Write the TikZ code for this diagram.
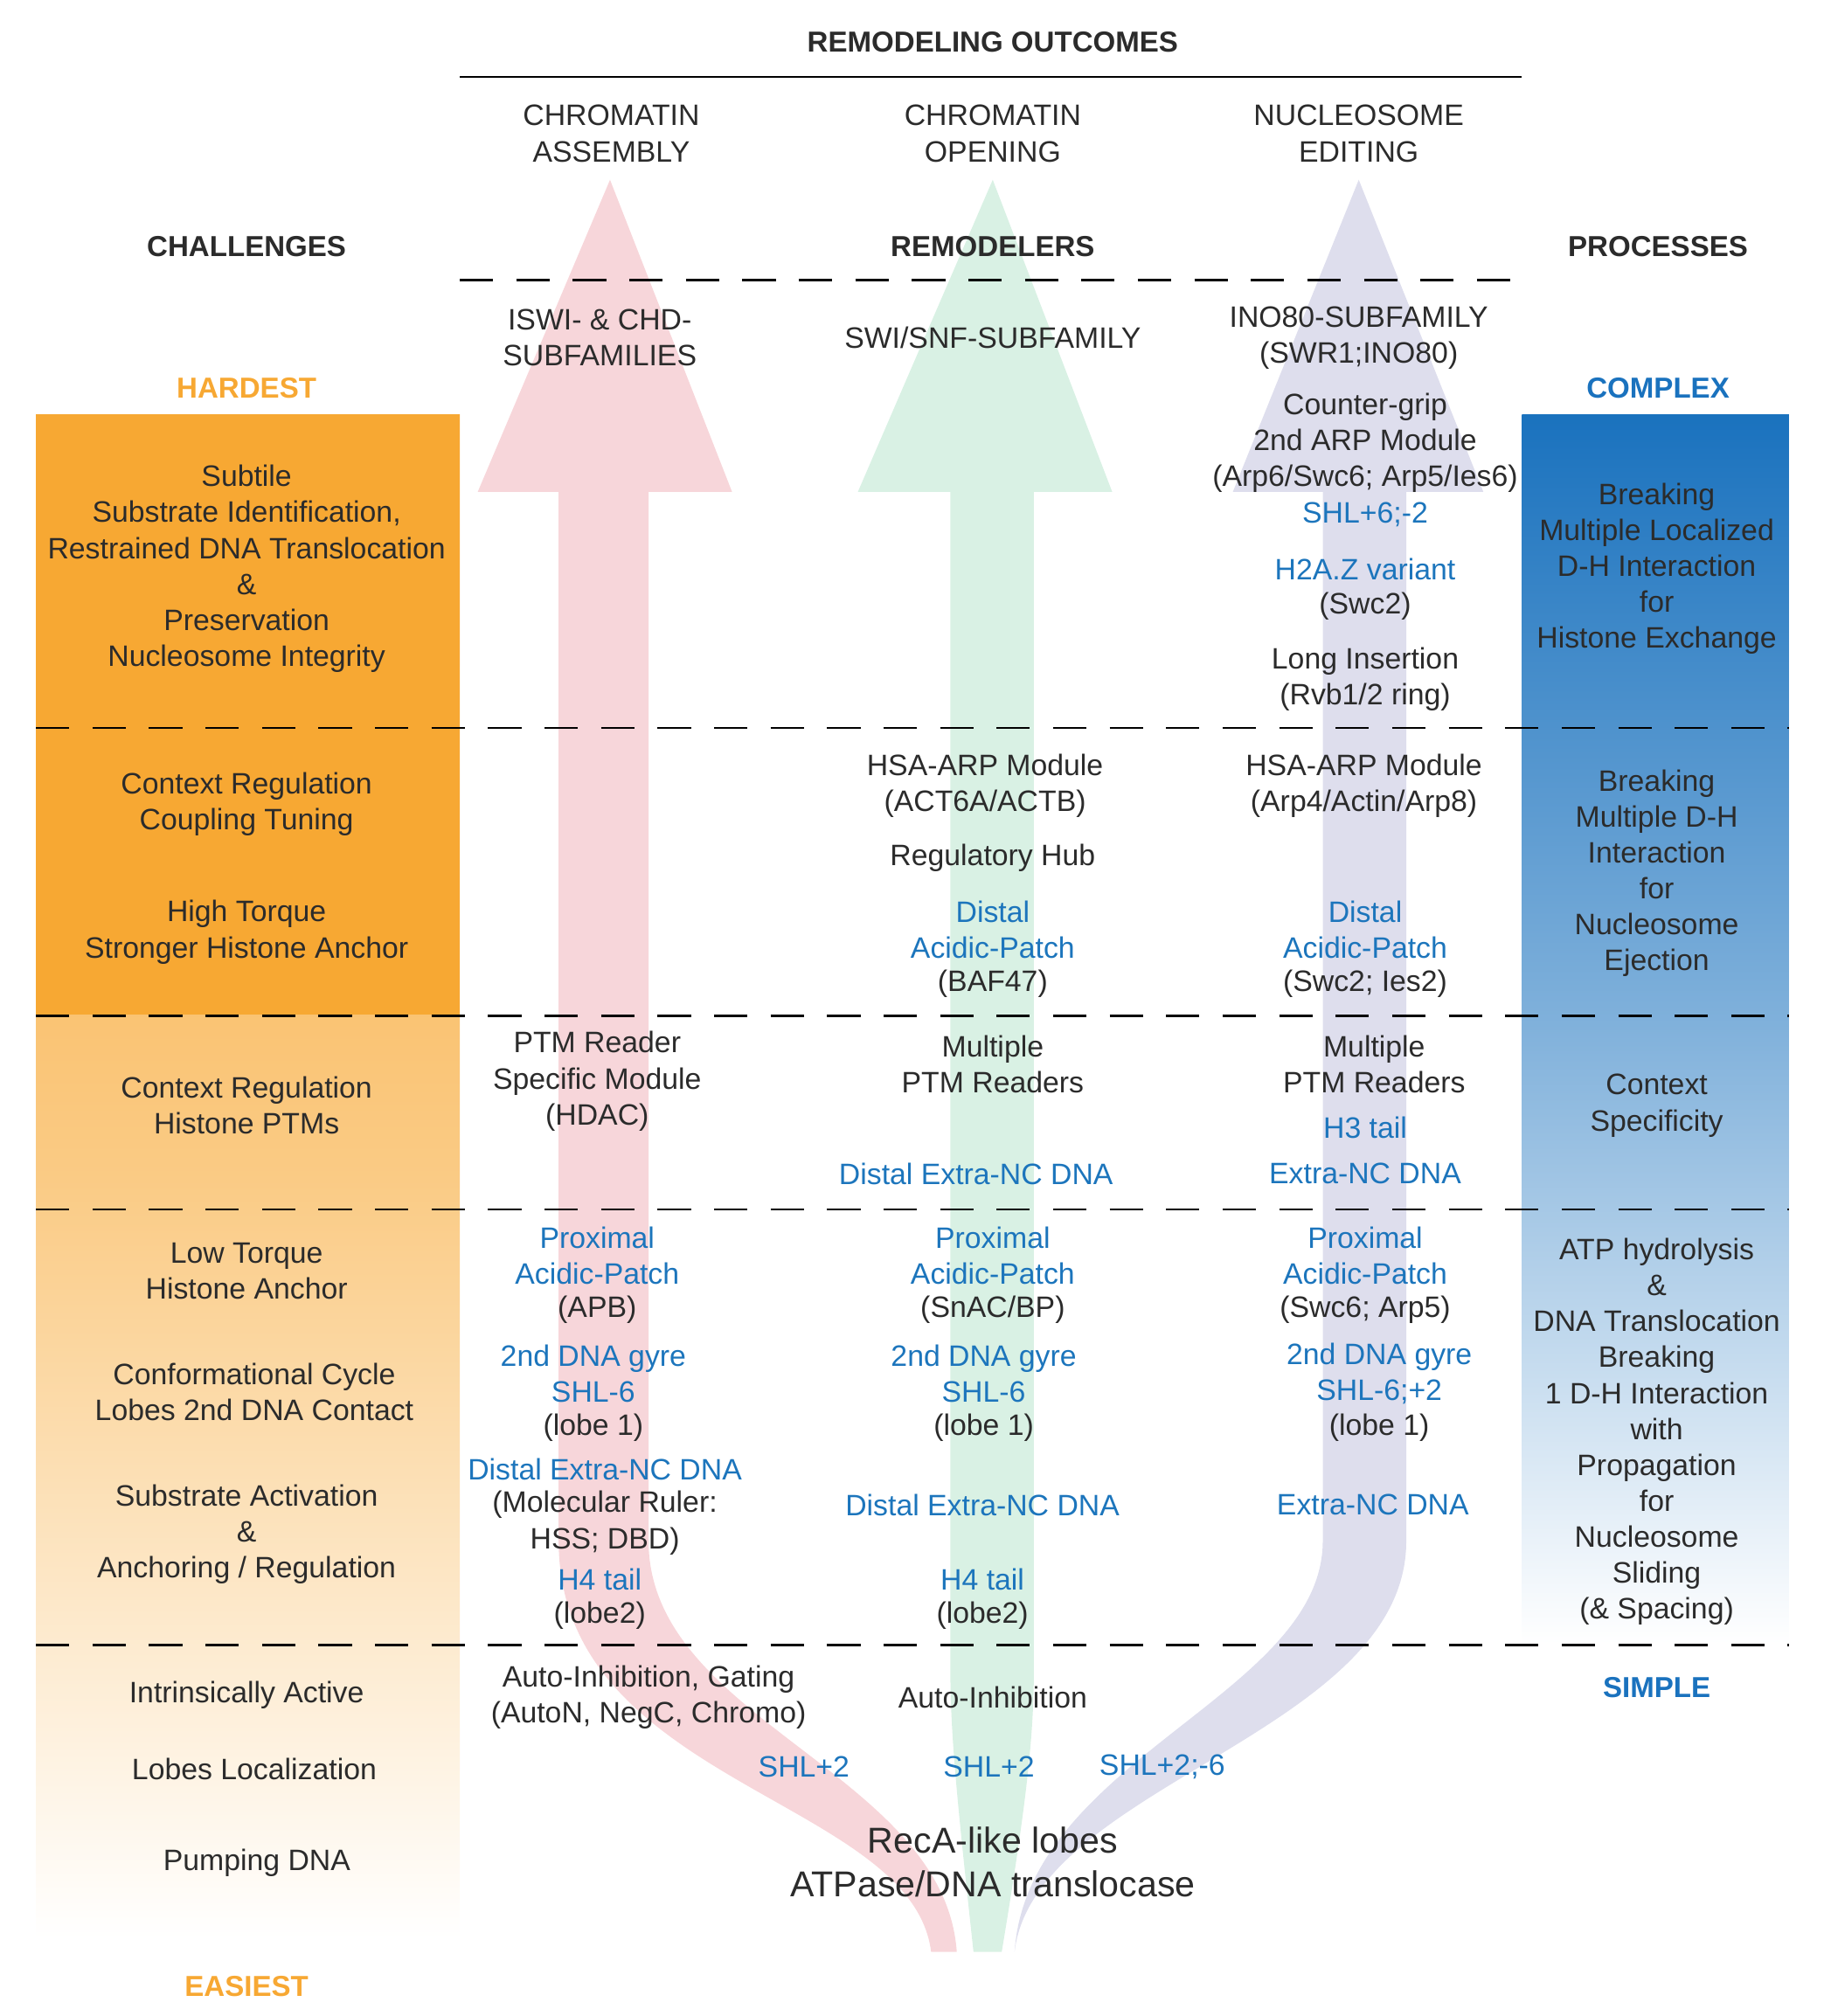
\documentclass[tikz,border=0pt]{standalone}
\usepackage{fontspec}
\setmainfont{Liberation Sans}
\definecolor{txtgrey}{HTML}{2B2B2B}
\definecolor{txtblue}{HTML}{1C75BC}
\definecolor{hardorange}{HTML}{F7A833}
\definecolor{cplxblue}{HTML}{1A72BE}
\definecolor{arrpink}{HTML}{F6D2D6}
\definecolor{arrgreen}{HTML}{D5EFE1}
\definecolor{arrlav}{HTML}{DADAEB}
\tikzset{
  lbl/.style={align=center,text=txtgrey,font=\fontsize{23}{28}\selectfont,inner sep=0pt},
  blu/.style={lbl,text=txtblue},
  hdr/.style={lbl,font=\fontsize{22.5}{28}\selectfont\bfseries},
  sep/.style={black,line width=1.6pt,dash pattern=on 26pt off 18pt},
}
\begin{document}
\begin{tikzpicture}[x=1pt,y=-1pt]
  \useasboundingbox (0,0) rectangle (1420,1570);
  %% columns
  \shade[top color=hardorange,bottom color=white,middle color=hardorange!60] (28,323) rectangle (358,1510);
  \fill[hardorange] (28,323) rectangle (358,790);
  \shade[top color=cplxblue,bottom color=white,middle color=cplxblue!55] (1185,323) rectangle (1393,1280);
  %% arrows
  \fill[arrpink,opacity=.9] (745,1520) .. controls (735,1380) and (505,1340) .. (505,1200) -- (505,383) -- (570,383) -- (475,140) -- (372,383) -- (435,383) -- (435,1200) .. controls (435,1390) and (710,1400) .. (725,1520) -- cycle;
  \fill[arrgreen,opacity=.9] (780,1520) .. controls (800,1400) and (805,1350) .. (805,1300) -- (805,383) -- (866,383) -- (773,140) -- (668,383) -- (740,383) -- (740,1300) .. controls (740,1350) and (745,1400) .. (758,1520) -- cycle;
  \fill[arrlav,opacity=.9] (790,1520) .. controls (805,1390) and (1095,1350) .. (1095,1200) -- (1095,383) -- (1155,383) -- (1058,140) -- (960,383) -- (1030,383) -- (1030,1200) .. controls (1030,1320) and (800,1370) .. (790,1520) -- cycle;
  %% rules
  \draw[line width=1.6pt] (358,60) -- (1185,60);
  \draw[sep] (358,218) -- (1185,218);
  \foreach \yy in {567,791,942,1281}
    \draw[sep] (28,\yy) -- (1393,\yy);
  %% headers
  \node[hdr] (outcomes) at (773,33) {REMODELING OUTCOMES};
  \node[lbl] (assembly) at (476,104) {CHROMATIN\\ASSEMBLY};
  \node[lbl] (opening) at (773,104) {CHROMATIN\\OPENING};
  \node[lbl] (editing) at (1058,104) {NUCLEOSOME\\EDITING};
  \node[hdr] (challenges) at (192,192) {CHALLENGES};
  \node[hdr] (remodelers) at (773,192) {REMODELERS};
  \node[hdr] (processes) at (1291,192) {PROCESSES};
  \node[lbl] (iswi) at (467,263) {ISWI- \& CHD-\\SUBFAMILIES};
  \node[lbl] (swisnf) at (773,263) {SWI/SNF-SUBFAMILY};
  \node[lbl] (ino80) at (1058,263) {INO80-SUBFAMILY\\(SWR1;INO80)};
  \node[hdr,text=hardorange] (hardest) at (192,302) {HARDEST};
  \node[hdr,text=cplxblue] (complex) at (1291,302) {COMPLEX};
  %% row 1
  \node[lbl] (subtile) at (192,443) {Subtile\\Substrate Identification,\\Restrained DNA Translocation\\\&\\Preservation\\Nucleosome Integrity};
  \node[lbl] (exchange) at (1290,443) {Breaking\\Multiple Localized\\D-H Interaction\\for\\Histone Exchange};
  \node[lbl] (grip) at (1063,345) {Counter-grip\\2nd ARP Module\\(Arp6/Swc6; Arp5/Ies6)};
  \node[blu] (shlA) at (1063,401) {SHL+6;-2};
  \node[blu] (h2az) at (1063,443) {H2A.Z variant};
  \node[lbl] (swc2) at (1063,472) {(Swc2)};
  \node[lbl] (insertion) at (1063,529) {Long Insertion\\(Rvb1/2 ring)};
  %% row 2
  \node[lbl] (coupling) at (192,626) {Context Regulation\\Coupling Tuning};
  \node[lbl] (torqueH) at (192,726) {High Torque\\Stronger Histone Anchor};
  \node[lbl] (hsaO) at (767,612) {HSA-ARP Module\\(ACT6A/ACTB)};
  \node[lbl] (hub) at (773,668) {Regulatory Hub};
  \node[blu] (distO) at (773,724) {Distal\\Acidic-Patch};
  \node[lbl] (baf) at (773,766) {(BAF47)};
  \node[lbl] (hsaE) at (1062,612) {HSA-ARP Module\\(Arp4/Actin/Arp8)};
  \node[blu] (distE) at (1063,724) {Distal\\Acidic-Patch};
  \node[lbl] (ies2) at (1063,766) {(Swc2; Ies2)};
  \node[lbl] (ejection) at (1290,680) {Breaking\\Multiple D-H\\Interaction\\for\\Nucleosome\\Ejection};
  %% row 3
  \node[lbl] (ptms) at (192,861) {Context Regulation\\Histone PTMs};
  \node[lbl] (readerA) at (465,842) {PTM Reader\\Specific Module\\(HDAC)};
  \node[lbl] (readerO) at (773,829) {Multiple\\PTM Readers};
  \node[blu] (extraO) at (760,914) {Distal Extra-NC DNA};
  \node[lbl] (readerE) at (1070,829) {Multiple\\PTM Readers};
  \node[blu] (h3) at (1063,878) {H3 tail};
  \node[blu] (extraE) at (1063,914) {Extra-NC DNA};
  \node[lbl] (specific) at (1290,861) {Context\\Specificity};
  %% row 4
  \node[lbl] (torqueL) at (192,990) {Low Torque\\Histone Anchor};
  \node[lbl] (cycle) at (198,1084) {Conformational Cycle\\Lobes 2nd DNA Contact};
  \node[lbl] (activation) at (192,1195) {Substrate Activation\\\&\\Anchoring / Regulation};
  \node[blu] (proxA) at (465,978) {Proximal\\Acidic-Patch};
  \node[lbl] (apb) at (465,1020) {(APB)};
  \node[blu] (gyreA) at (462,1070) {2nd DNA gyre\\SHL-6};
  \node[lbl] (lobeA) at (462,1112) {(lobe 1)};
  \node[blu] (distA) at (471,1144) {Distal Extra-NC DNA};
  \node[lbl] (ruler) at (471,1186) {(Molecular Ruler:\\HSS; DBD)};
  \node[blu] (h4A) at (467,1230) {H4 tail};
  \node[lbl] (lobe2A) at (467,1258) {(lobe2)};
  \node[blu] (proxO) at (773,978) {Proximal\\Acidic-Patch};
  \node[lbl] (snac) at (773,1020) {(SnAC/BP)};
  \node[blu] (gyreO) at (766,1070) {2nd DNA gyre\\SHL-6};
  \node[lbl] (lobeO) at (766,1112) {(lobe 1)};
  \node[blu] (distO2) at (765,1172) {Distal Extra-NC DNA};
  \node[blu] (h4O) at (765,1230) {H4 tail};
  \node[lbl] (lobe2O) at (765,1258) {(lobe2)};
  \node[blu] (proxE) at (1063,978) {Proximal\\Acidic-Patch};
  \node[lbl] (swc6) at (1063,1020) {(Swc6; Arp5)};
  \node[blu] (gyreE) at (1074,1070) {2nd DNA gyre\\SHL-6;+2};
  \node[lbl] (lobeE) at (1074,1112) {(lobe 1)};
  \node[blu] (extraE2) at (1069,1172) {Extra-NC DNA};
  \node[lbl] (sliding) at (1290,1115) {ATP hydrolysis\\\&\\DNA Translocation\\Breaking\\1 D-H Interaction\\with\\Propagation\\for\\Nucleosome\\Sliding\\(\& Spacing)};
  %% row 5
  \node[lbl] (active) at (192,1320) {Intrinsically Active};
  \node[lbl] (localize) at (198,1378) {Lobes Localization};
  \node[lbl] (pumping) at (200,1451) {Pumping DNA};
  \node[lbl] (gating) at (505,1322) {Auto-Inhibition, Gating\\(AutoN, NegC, Chromo)};
  \node[lbl] (inhib) at (773,1322) {Auto-Inhibition};
  \node[hdr,text=cplxblue] (simple) at (1290,1314) {SIMPLE};
  \node[blu] (shlP) at (626,1376) {SHL+2};
  \node[blu] (shlO) at (770,1376) {SHL+2};
  \node[blu] (shlE) at (905,1376) {SHL+2;-6};
  \node[lbl,font=\fontsize{28}{34}\selectfont] (reca) at (773,1450) {RecA-like lobes\\ATPase/DNA translocase};
  \node[hdr,text=hardorange] (easiest) at (192,1547) {EASIEST};
\end{tikzpicture}
\end{document}
